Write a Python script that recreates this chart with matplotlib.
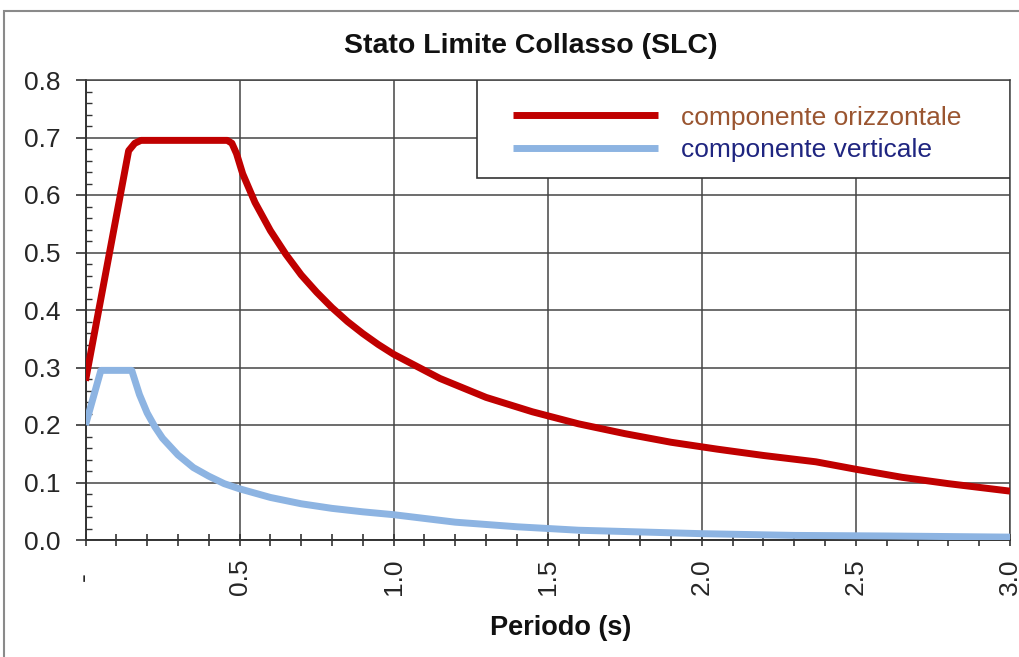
import matplotlib
matplotlib.use("Agg")
import matplotlib.pyplot as plt
from matplotlib.ticker import MultipleLocator, FixedLocator, FixedFormatter
from matplotlib.patches import Rectangle

plt.rcParams['font.family'] = ['Liberation Sans', 'DejaVu Sans']

# --- data ---
periods_h = [0.0, 0.14, 0.16, 0.18, 0.46, 0.475, 0.49, 0.51, 0.55, 0.6, 0.65, 0.7,
             0.75, 0.8, 0.85, 0.9, 0.95, 1.0, 1.15, 1.3, 1.45, 1.6, 1.75, 1.9,
             2.05, 2.2, 2.37, 2.5, 2.65, 2.8, 3.0]
sa_horizontal = [0.277, 0.677, 0.690, 0.695, 0.695, 0.690, 0.672, 0.637, 0.587,
                 0.538, 0.497, 0.461, 0.431, 0.404, 0.380, 0.359, 0.340, 0.323,
                 0.281, 0.248, 0.223, 0.202, 0.185, 0.170, 0.158, 0.147, 0.136,
                 0.123, 0.109, 0.098, 0.085]

periods_v = [0.0, 0.05, 0.15, 0.175, 0.2, 0.225, 0.25, 0.3, 0.35, 0.4, 0.45, 0.5,
             0.6, 0.7, 0.8, 0.9, 1.0, 1.2, 1.4, 1.6, 1.8, 2.0, 2.3, 2.6, 3.0]
sa_vertical = [0.200, 0.295, 0.295, 0.253, 0.221, 0.197, 0.177, 0.148, 0.126,
               0.111, 0.098, 0.089, 0.074, 0.063, 0.055, 0.049, 0.044, 0.031,
               0.023, 0.017, 0.014, 0.011, 0.008, 0.007, 0.005]

x_ticks = [0.0, 0.5, 1.0, 1.5, 2.0, 2.5, 3.0]
x_tick_labels = ["-  ", "0.5", "1.0", "1.5", "2.0", "2.5", "3.0"]
y_ticks = [0.0, 0.1, 0.2, 0.3, 0.4, 0.5, 0.6, 0.7, 0.8]
y_tick_labels = ["0.0", "0.1", "0.2", "0.3", "0.4", "0.5", "0.6", "0.7", "0.8"]

series_names = ["componente orizzontale", "componente verticale"]
title = "Stato Limite Collasso (SLC)"
xlabel = "Periodo (s)"

W, H = 1019, 657
fig = plt.figure(figsize=(W / 100, H / 100), dpi=100)
fig.patch.set_facecolor('white')

# outer chart border
fig.add_artist(Rectangle((4 / W, -0.1), 1.2, 1 - 11 / H + 0.1,
                         transform=fig.transFigure, fill=False,
                         edgecolor='#8a8a8a', linewidth=1.5))

ax = fig.add_axes([85.5 / W, 1 - 540 / H, (1010 - 85.5) / W, (540 - 80) / H])

red = '#C00000'
blue = '#8DB4E2'
grid_c = '#454545'

ax.plot(periods_h, sa_horizontal, color=red, lw=5, solid_joinstyle='round',
        solid_capstyle='butt', label=series_names[0], zorder=3)
ax.plot(periods_v, sa_vertical, color=blue, lw=5, solid_joinstyle='round',
        solid_capstyle='butt', label=series_names[1], zorder=3)

ax.set_xlim(0, 3.0)
ax.set_ylim(0, 0.8)

ax.xaxis.set_major_locator(FixedLocator(x_ticks))
ax.xaxis.set_major_formatter(FixedFormatter(x_tick_labels))
ax.xaxis.set_minor_locator(MultipleLocator(0.1))
ax.yaxis.set_major_locator(FixedLocator(y_ticks))
ax.yaxis.set_major_formatter(FixedFormatter(y_tick_labels))
ax.yaxis.set_minor_locator(MultipleLocator(0.02))

ax.grid(True, which='major', color=grid_c, linewidth=1.1, zorder=1)
ax.set_axisbelow(True)

for s in ax.spines.values():
    s.set_color(grid_c)
    s.set_linewidth(1.1)
ax.spines['left'].set_color('#333333')
ax.spines['bottom'].set_color('#333333')
ax.spines['left'].set_linewidth(1.4)
ax.spines['bottom'].set_linewidth(1.4)

ax.tick_params(axis='y', which='major', direction='out', length=7, width=1.2,
               color='#333333', labelsize=19, labelcolor='#262626', pad=11)
ax.tick_params(axis='y', which='minor', direction='in', length=4.5, width=1.0,
               color='#333333')
ax.tick_params(axis='x', which='both', direction='inout', length=9, width=1.2,
               color='#333333')
ax.tick_params(axis='x', which='major', labelsize=19, labelcolor='#262626',
               pad=9, labelrotation=90)

for lbl in ax.get_xticklabels():
    lbl.set_va('top')
    lbl.set_ha('center')

leg = ax.legend(loc='upper left', bbox_to_anchor=((513 - 85.5) / 924.5, (540 - 105.5) / 460),
                frameon=False, fontsize=19, borderpad=0, borderaxespad=0,
                handlelength=5.5, handletextpad=0.85, labelspacing=0.32)
for line in leg.get_lines():
    line.set_linewidth(5)
texts = leg.get_texts()
texts[0].set_color('#9A5530')
texts[1].set_color('#1F2580')

ax.add_patch(Rectangle(((477 - 85.5) / 924.5, (540 - 178) / 460),
                       1 - (477 - 85.5) / 924.5, (178 - 80) / 460,
                       transform=ax.transAxes, fill=True, facecolor='white',
                       edgecolor='#333333', linewidth=1.2, zorder=4))
leg.set_zorder(5)

fig.text(531 / W, 1 - 46 / H, title, ha='center', va='center',
         fontsize=20.5, fontweight='bold', color='#111111')
fig.text(561 / W, 1 - 628 / H, xlabel, ha='center', va='center',
         fontsize=19.5, fontweight='bold', color='#111111')

fig.savefig('out.png', dpi=100, facecolor='white')
